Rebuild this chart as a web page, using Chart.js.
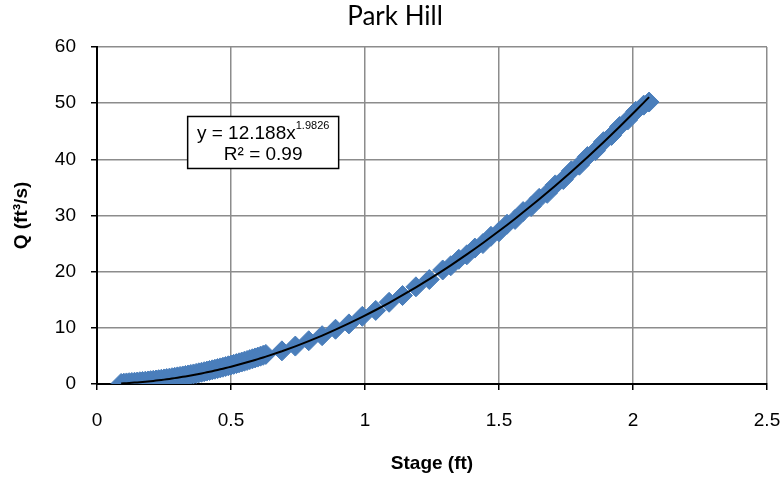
<!DOCTYPE html>
<html>
<head>
<meta charset="utf-8">
<title>Park Hill</title>
<script src="https://cdn.jsdelivr.net/npm/chart.js@4.4.1/dist/chart.umd.min.js"></script>
<style>
  html, body { margin: 0; padding: 0; background: #ffffff; }
  #wrap { width: 784px; height: 482px; }
</style>
</head>
<body>
<div id="wrap"><canvas id="myChart" width="784" height="482"></canvas></div>
<script>
// Chart data - stage (ft) vs discharge Q (ft3/s)
const chartTitle = 'Park Hill';
const stageFt = [
  0.09, 0.10, 0.11, 0.12, 0.13, 0.14, 0.15, 0.16, 0.17, 0.18, 0.19,
  0.20, 0.21, 0.22, 0.23, 0.24, 0.25, 0.26, 0.27, 0.28, 0.29,
  0.30, 0.31, 0.32, 0.33, 0.34, 0.35, 0.36, 0.37, 0.38, 0.39,
  0.40, 0.41, 0.42, 0.43, 0.44, 0.45, 0.46, 0.47, 0.48, 0.49,
  0.50, 0.51, 0.52, 0.53, 0.54, 0.55, 0.56, 0.57, 0.58, 0.59,
  0.60, 0.61, 0.62, 0.63,
  0.69, 0.74, 0.79, 0.84, 0.89, 0.94, 0.99, 1.04, 1.09, 1.14, 1.19, 1.24, 1.29,
  1.32, 1.35, 1.38, 1.41, 1.44, 1.47, 1.50, 1.53, 1.56, 1.59, 1.62, 1.65,
  1.68, 1.71, 1.74, 1.77, 1.80, 1.83, 1.86, 1.89, 1.92, 1.95, 1.98, 2.01, 2.04, 2.06
];
const flowCfs = [
  0.10, 0.15, 0.19, 0.23, 0.27, 0.31, 0.35, 0.40, 0.44, 0.49, 0.54,
  0.60, 0.65, 0.71, 0.77, 0.84, 0.90, 0.97, 1.04, 1.12, 1.19,
  1.27, 1.35, 1.43, 1.52, 1.61, 1.70, 1.79, 1.89, 1.99, 2.09,
  2.19, 2.30, 2.41, 2.52, 2.63, 2.75, 2.87, 2.99, 3.11, 3.24,
  3.37, 3.50, 3.63, 3.77, 3.91, 4.05, 4.19, 4.34, 4.49, 4.64,
  4.79, 4.95, 5.11, 5.27,
  5.90, 6.75, 7.70, 8.60, 9.75, 10.70, 12.05, 13.10, 14.55, 15.75, 17.30, 18.60, 20.30,
  21.05, 22.20, 23.00, 24.20, 25.00, 26.30, 27.10, 28.45, 29.30, 30.70, 31.60, 33.05,
  33.95, 35.45, 36.40, 37.95, 38.95, 40.50, 41.55, 43.15, 44.25, 45.85, 47.00, 48.55, 49.65, 50.20
];

// Power trendline as shown on the chart label
const trendA = 12.188;
const trendB = 1.9826;
const trendR2 = '0.99';

const xTicks = { min: 0, max: 2.5, step: 0.5 };
const yTicks = { min: 0, max: 60, step: 10 };

const scatterPoints = stageFt.map((s, i) => ({ x: s, y: flowCfs[i] }));
const trendPoints = stageFt.map(s => ({ x: s, y: trendA * Math.pow(s, trendB) }));

const axisFont = '"Liberation Sans", Arial, sans-serif';

// Chart title, centred on the canvas
const plotTitle = {
  id: 'plotTitle',
  afterDraw(chart) {
    const ctx = chart.ctx;
    ctx.save();
    ctx.font = '26px Lato, "Open Sans", sans-serif';
    ctx.fillStyle = '#000';
    ctx.textAlign = 'center';
    ctx.textBaseline = 'middle';
    ctx.fillText(chartTitle, chart.width / 2 + 3, 17);
    ctx.restore();
  }
};

// Trendline equation box, anchored in data coordinates
const equationBox = {
  id: 'equationBox',
  afterDatasetsDraw(chart) {
    const ctx = chart.ctx;
    const cx = chart.scales.x.getPixelForValue(0.62);
    const cy = chart.scales.y.getPixelForValue(43);
    const w = 151, h = 52;
    ctx.save();
    ctx.fillStyle = '#fff';
    ctx.fillRect(cx - w / 2, cy - h / 2, w, h);
    ctx.strokeStyle = '#000';
    ctx.lineWidth = 1.5;
    ctx.strokeRect(cx - w / 2, cy - h / 2, w, h);

    ctx.fillStyle = '#000';
    ctx.textBaseline = 'alphabetic';
    const main = 'y = ' + trendA + 'x';
    const sup = String(trendB);
    ctx.font = '19px ' + axisFont;
    const mw = ctx.measureText(main).width;
    ctx.font = '11px ' + axisFont;
    const sw = ctx.measureText(sup).width;
    const x0 = cx - (mw + sw) / 2;
    ctx.textAlign = 'left';
    ctx.font = '19px ' + axisFont;
    ctx.fillText(main, x0, cy - 3);
    ctx.font = '11px ' + axisFont;
    ctx.fillText(sup, x0 + mw, cy - 13);
    ctx.font = '19px ' + axisFont;
    ctx.textAlign = 'center';
    ctx.fillText('R\u00b2 = ' + trendR2, cx, cy + 18);
    ctx.restore();
  }
};

function renderMyChart() {
  const ctx = document.getElementById('myChart');
  return new Chart(ctx, {
    type: 'scatter',
    data: {
      datasets: [{
        label: 'Measured',
        data: scatterPoints,
        pointStyle: 'rectRot',
        pointRadius: 10,
        pointHoverRadius: 10,
        backgroundColor: '#4a7ebb',
        borderColor: '#4a7ebb',
        borderWidth: 1,
        order: 2
      }, {
        label: 'Power trend',
        type: 'line',
        data: trendPoints,
        borderColor: '#000',
        borderWidth: 2,
        pointRadius: 0,
        fill: false,
        tension: 0,
        order: 1
      }]
    },
    options: {
      responsive: false,
      animation: false,
      layout: { padding: { top: 47, right: 17, left: 0, bottom: 0 } },
      plugins: {
        legend: { display: false },
        title: { display: false },
        tooltip: { enabled: false }
      },
      scales: {
        x: {
          type: 'linear',
          min: xTicks.min,
          max: xTicks.max,
          afterFit(scale) {
            scale.height = 98;
            // keep the last tick label from pushing the plot area in
            scale.paddingLeft = 0;
            scale.paddingRight = 0;
          },
          ticks: {
            stepSize: xTicks.step,
            color: '#000',
            padding: 19,
            maxRotation: 0,
            font: { family: axisFont, size: 19 },
            callback: v => String(Number(v.toFixed(1)))
          },
          grid: { color: '#8c8c8c', lineWidth: 1.5, tickLength: 6, tickColor: '#000' },
          border: { color: '#000', width: 2 },
          title: {
            display: true,
            text: 'Stage (ft)',
            color: '#000',
            font: { family: axisFont, size: 19, weight: 'bold' },
            padding: { top: 0, bottom: 7 }
          }
        },
        y: {
          min: yTicks.min,
          max: yTicks.max,
          afterFit(scale) {
            scale.width = 97;
            scale.paddingTop = 0;
            scale.paddingBottom = 0;
          },
          ticks: {
            stepSize: yTicks.step,
            color: '#000',
            padding: 15,
            font: { family: axisFont, size: 19 }
          },
          grid: { color: '#8c8c8c', lineWidth: 1.5, tickLength: 6, tickColor: '#000' },
          border: { color: '#000', width: 2 },
          title: {
            display: true,
            text: 'Q (ft\u00b3/s)',
            color: '#000',
            font: { family: axisFont, size: 19, weight: 'bold' },
            padding: { top: 10, bottom: 0 }
          }
        }
      }
    },
    plugins: [plotTitle, equationBox]
  });
}

window.onload = function() {
  renderMyChart();
};
</script>
</body>
</html>
